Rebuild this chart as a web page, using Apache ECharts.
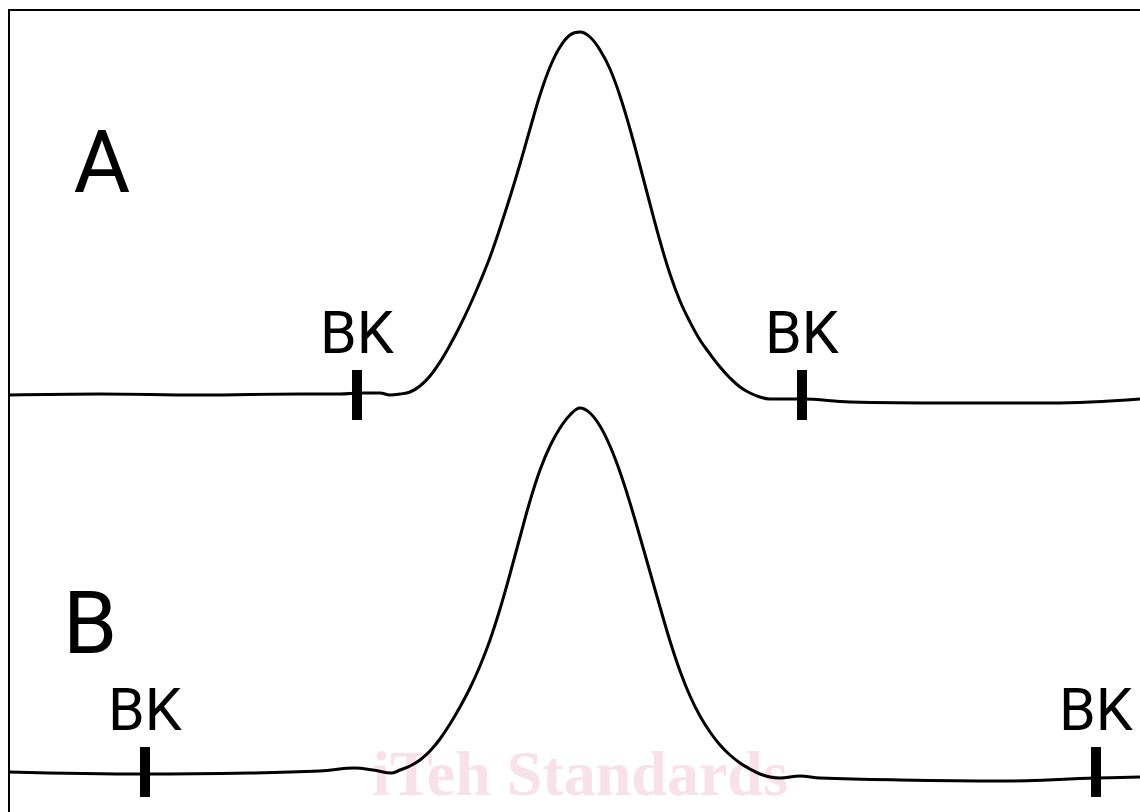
<!DOCTYPE html>
<html>
<head>
<meta charset="utf-8">
<script src="https://cdn.jsdelivr.net/npm/echarts@6/dist/echarts.min.js"></script>
<style>
  html, body { margin: 0; padding: 0; background: #fff; }
  #chart { width: 1140px; height: 812px; }
</style>
</head>
<body>
<div id="chart"></div>
<script>
// trace A (upper chromatogram): [time, response]
const traceA = [
  [0, 417], [91, 418], [191, 417], [291, 418], [331, 418], [351, 419], [371, 419],
  [381, 417], [391, 418], [401, 420], [411, 426], [421, 436], [431, 450], [441, 467],
  [451, 486], [461, 507], [471, 530], [481, 555], [491, 584], [501, 615], [511, 648],
  [521, 683], [531, 717], [541, 745], [551, 765], [561, 777], [571, 780], [581, 775],
  [591, 762], [601, 743], [611, 716], [621, 683], [631, 646], [641, 608], [651, 571],
  [661, 538], [671, 511], [681, 490], [691, 472], [701, 458], [711, 445], [721, 434],
  [731, 425], [741, 419], [751, 415], [761, 413], [771, 413], [793, 413], [841, 410],
  [941, 409], [1041, 409], [1131, 413]
];
// trace B (lower chromatogram)
const traceB = [
  [0, 40], [136, 38], [241, 39], [311, 41], [346, 44], [364, 42], [383, 39],
  [391, 42], [401, 46], [411, 52], [421, 61], [431, 73], [441, 88], [451, 105],
  [461, 124], [471, 146], [481, 172], [491, 203], [501, 238], [511, 275], [521, 311],
  [531, 342], [541, 366], [551, 384], [561, 397], [571, 404], [581, 399], [591, 386],
  [601, 366], [611, 340], [621, 309], [631, 275], [641, 240], [651, 205], [661, 171],
  [671, 141], [681, 116], [691, 96], [701, 80], [711, 67], [721, 57], [731, 49],
  [741, 43], [751, 38], [761, 35], [771, 34], [791, 36], [811, 34], [891, 32],
  [991, 31], [1087, 34], [1131, 35]
];
// background (BK) points on each trace
const bkA = [[348, 417], [793, 417]];
const bkB = [[136, 40], [1087, 40]];
// trace names
const traceLabels = [[93, 642, 'A'], [81, 181, 'B']];

const sans = "Roboto, 'Liberation Sans', sans-serif";

const chart = echarts.init(document.getElementById('chart'));

const bkSeries = (data) => ({
  type: 'scatter',
  data: data,
  symbol: 'rect',
  symbolSize: [10, 50],
  itemStyle: { color: '#000', opacity: 1 },
  z: 4,
  label: {
    show: true,
    formatter: 'BK',
    position: 'top',
    distance: 2,
    color: '#000',
    fontSize: 59,
    lineHeight: 59,
    fontFamily: sans
  }
});

const lineSeries = (data) => ({
  type: 'line',
  data: data,
  smooth: 0.4,
  showSymbol: false,
  lineStyle: { color: '#000', width: 3 },
  z: 3
});

chart.setOption({
  animation: false,
  backgroundColor: '#fff',
  grid: { left: 9, top: 10, right: 0, bottom: 0 },
  xAxis: {
    type: 'value',
    min: 0,
    max: 1131,
    position: 'top',
    axisLine: { show: true, onZero: false, lineStyle: { color: '#000', width: 2 } },
    axisTick: { show: false },
    axisLabel: { show: false },
    splitLine: { show: false }
  },
  yAxis: {
    type: 'value',
    min: 0,
    max: 802,
    axisLine: { show: true, onZero: false, lineStyle: { color: '#000', width: 2 } },
    axisTick: { show: false },
    axisLabel: { show: false },
    splitLine: { show: false }
  },
  graphic: [{
    type: 'text',
    z: 0,
    style: {
      text: 'iTeh Standards',
      x: 580,
      y: 778,
      textAlign: 'center',
      textVerticalAlign: 'middle',
      font: "bold 64px 'Liberation Serif', 'Times New Roman', serif",
      fill: '#f8e1e8'
    }
  }],
  series: [
    lineSeries(traceA),
    lineSeries(traceB),
    bkSeries(bkA),
    bkSeries(bkB),
    {
      type: 'scatter',
      data: traceLabels,
      symbolSize: 0,
      z: 4,
      itemStyle: { opacity: 1 },
      label: {
        show: true,
        position: 'inside',
        formatter: (p) => p.data[2],
        color: '#000',
        fontSize: 87,
        fontFamily: sans
      }
    }
  ]
});
</script>
</body>
</html>
